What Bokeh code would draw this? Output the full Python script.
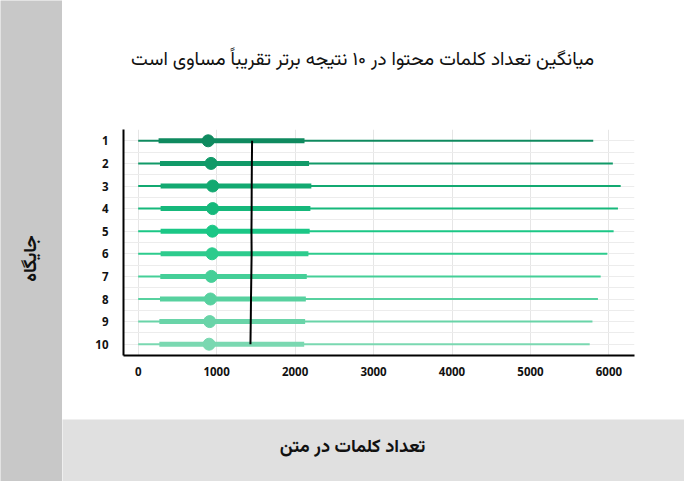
import math
from bokeh.plotting import figure
from bokeh.layouts import row, column
from bokeh.models import Label, FixedTicker, Range1d
from bokeh.embed import file_html
from bokeh.resources import INLINE

# ---- data ----
ranks = [1, 2, 3, 4, 5, 6, 7, 8, 9, 10]
rank_labels = ["1", "2", "3", "4", "5", "6", "7", "8", "9", "10"]
min_words = [0, 0, 0, 0, 0, 0, 0, 0, 0, 0]
max_words = [5800, 6050, 6150, 6115, 6060, 5980, 5895, 5860, 5790, 5755]
q1_words = [260, 278, 286, 286, 286, 286, 282, 278, 270, 270]
q3_words = [2120, 2178, 2207, 2195, 2186, 2170, 2149, 2137, 2128, 2116]
median_words = [892, 929, 950, 950, 946, 942, 933, 921, 912, 904]
mean_words = [1452, 1449, 1447, 1446, 1444, 1446, 1442, 1438, 1435, 1431]
x_ticks = [0, 1000, 2000, 3000, 4000, 5000, 6000]

title_text = "میانگین تعداد کلمات محتوا در ۱۰ نتیجه برتر تقریباً مساوی است"
x_label = "تعداد کلمات در متن"
y_label = "جایگاه"

# ---- styles ----
row_colors = ["#0f8a5f", "#119a68", "#13a971", "#16b87b", "#1bc786",
              "#2dcb8d", "#45cf98", "#57d19f", "#69d4a8", "#7ad8b1"]
tick_font = "Open Sans"
fa_font = "Vazirmatn, 'Noto Sans Arabic', 'DejaVu Sans'"

LEFT_W = 62
MAIN_W = 622
TITLE_H = 100
MAIN_H = 319
BOTTOM_H = 62
FR_L, FR_R = 61, 50          # frame borders of the main plot


def blank(w, h, bg):
    f = figure(width=w, height=h, output_backend="svg", toolbar_location=None,
               x_range=Range1d(0, w), y_range=Range1d(0, h),
               min_border=0, min_border_left=0, min_border_right=0,
               min_border_top=0, min_border_bottom=0, frame_align=False)
    f.axis.visible = False
    f.grid.visible = False
    f.outline_line_color = None
    f.background_fill_color = bg
    f.border_fill_color = bg
    return f


# left panel
left = blank(LEFT_W, TITLE_H + MAIN_H + BOTTOM_H, "#c8c8c8")
left.add_layout(Label(x=31, y=223, text=y_label, angle=math.pi / 2,
                      text_align="center", text_baseline="middle",
                      text_font=fa_font, text_font_style="bold",
                      text_font_size="18.3px", text_color="#111111"))

# title panel
top = blank(MAIN_W, TITLE_H, "white")
top.add_layout(Label(x=300, y=40, text=title_text,
                     text_align="center", text_baseline="middle",
                     text_font=fa_font, text_font_size="18.9px",
                     text_color="#111111"))

# main plot
p = figure(width=MAIN_W, height=MAIN_H, output_backend="svg", toolbar_location=None,
           x_range=Range1d(-187, 6326), y_range=Range1d(10.5, 0.5),
           min_border_left=FR_L, min_border_right=FR_R,
           min_border_top=29, min_border_bottom=64, frame_align=False)
p.outline_line_color = None
p.background_fill_color = "white"
p.border_fill_color = "white"

p.segment(x0=min_words, x1=max_words, y0=ranks, y1=ranks,
          line_color=row_colors, line_width=2)
p.segment(x0=q1_words, x1=q3_words, y0=ranks, y1=ranks,
          line_color=row_colors, line_width=5)
p.scatter(x=median_words, y=ranks, size=12, fill_color=row_colors,
          line_color=row_colors)
p.line(x=mean_words, y=ranks, line_color="black", line_width=2)

p.xaxis.ticker = FixedTicker(ticks=x_ticks)
p.yaxis.ticker = FixedTicker(ticks=ranks)
p.yaxis.major_label_overrides = {r: l for r, l in zip(ranks, rank_labels)}
for ax in (p.xaxis, p.yaxis):
    ax.axis_line_color = "black"
    ax.axis_line_width = 2
    ax.major_tick_line_color = None
    ax.minor_tick_line_color = None
    ax.major_label_text_font = tick_font
    ax.major_label_text_font_style = "bold"
    ax.major_label_text_font_size = "11.5px"
    ax.major_label_text_color = "#111111"
p.xaxis.major_label_standoff = 5
p.yaxis.major_label_standoff = 9

p.xgrid.ticker = FixedTicker(ticks=x_ticks)
p.xgrid.grid_line_color = "#e6e6e6"
p.ygrid.ticker = FixedTicker(ticks=[r + d for r in ranks for d in (0.0, 0.5)][:-1])
p.ygrid.grid_line_color = "#ececec"

# bottom panel
bottom = blank(MAIN_W, BOTTOM_H, "#e0e0e0")
bottom.add_layout(Label(x=290, y=34, text=x_label,
                        text_align="center", text_baseline="middle",
                        text_font=fa_font, text_font_style="bold",
                        text_font_size="18.3px", text_color="#111111"))

layout = row(left, column(top, p, bottom, spacing=0), spacing=0)

open("out.html", "w").write(file_html(layout, INLINE))
